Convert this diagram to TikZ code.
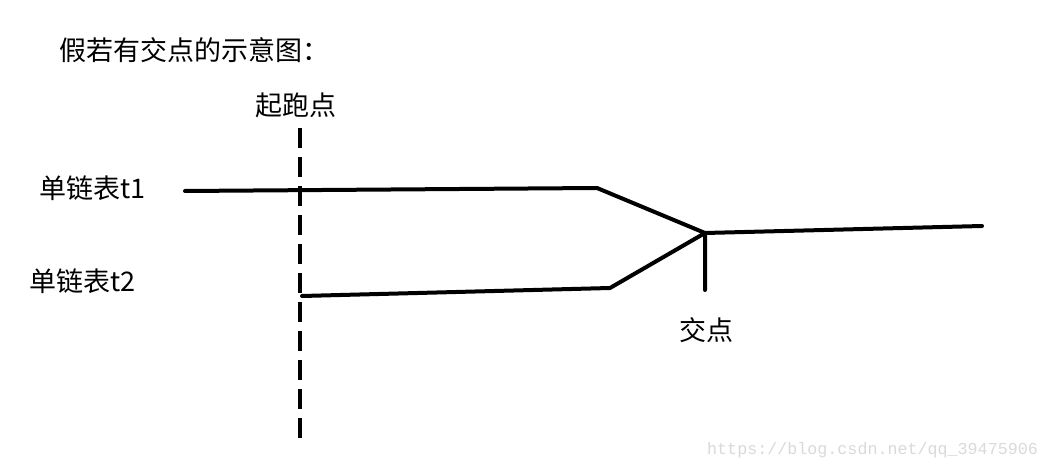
\documentclass[tikz,border=0pt]{standalone}
\usepackage{fontspec}
\setmainfont{Noto Sans CJK SC}
\newfontfamily\monofont{Liberation Mono}
\usetikzlibrary{positioning}
\tikzset{
  lbl/.style={inner sep=0pt, font=\fontsize{27}{30}\selectfont},
  chain/.style={line width=4pt, line join=round, line cap=round},
  startline/.style={line width=4pt, dash pattern=on 20pt off 9pt},
}

\begin{document}
\begin{tikzpicture}[x=1pt, y=-1pt]
    \useasboundingbox (0,0) rectangle (1049,470);

    % texts
    \node[lbl, anchor=west] (title) at (59,50) {假若有交点的示意图：};
    \node[lbl] (start) at (296,105) {起跑点};
    \node[lbl, anchor=west] (t1) at (39,188) {单链表t1};
    \node[lbl, anchor=west] (t2) at (29,281) {单链表t2};
    \node[lbl] (cross) at (706,330) {交点};
    \node[anchor=west, inner sep=0pt, text=black!15,
      font=\monofont\fontsize{16.7}{19}\selectfont] (mark) at (707,450)
      {https://blog.csdn.net/qq\_39475906};

    % points
    \coordinate (s1) at (185,191);
    \coordinate (b1) at (597,188);
    \coordinate (s2) at (302,296);
    \coordinate (b2) at (610,288);
    \coordinate (x) at (705,233);
    \coordinate (e) at (982,226);
    \coordinate (xd) at (705,290);
    \coordinate (dtop) at (300,128);
    \coordinate (dbot) at (300,440);

    \draw[startline] (dtop) -- (dbot);
    \draw[chain] (s1) -- (b1) -- (x) -- (e);
    \draw[chain] (s2) -- (b2) -- (x) -- (xd);
  \end{tikzpicture}
\end{document}
